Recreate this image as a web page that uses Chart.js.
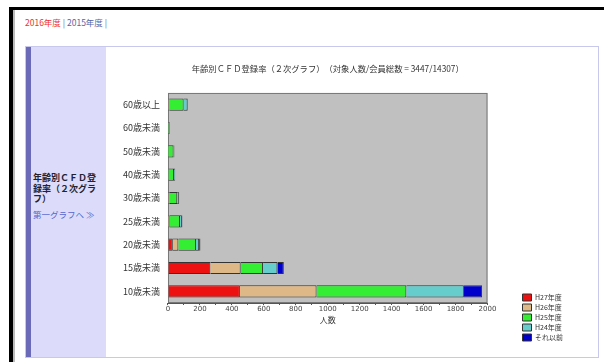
<!DOCTYPE html>
<html>
<head>
<meta charset="utf-8">
<script src="https://cdn.jsdelivr.net/npm/chart.js@4"></script>
<style>
	body { margin: 0; background: #fff; font-family: "Noto Sans CJK JP", sans-serif; }
	#frame-top { position: absolute; left: 9px; top: 7px; width: 595px; height: 3px; background: #000; }
	#frame-left { position: absolute; left: 9px; top: 7px; width: 4px; height: 355px; background: #000; }
	#frame-shade { position: absolute; left: 13px; top: 10px; width: 2px; height: 352px; background: #bbb; }
	#years { position: absolute; left: 25px; top: 16px; font-size: 8.5px; color: #5566aa; }
	#years .now { color: #ee3333; }
	#panel { position: absolute; left: 25px; top: 46px; width: 572px; height: 310px; border: 1px solid #c8c8ec; background: #fff; }
	#side { position: absolute; left: 0; top: 0; width: 80px; height: 310px; background: #dcdcfa; border-left: 5px solid #6a6ab8; box-sizing: border-box; }
	#side .name { position: absolute; left: 2px; top: 126px; width: 66px; font-size: 9px; font-weight: bold; color: #223; line-height: 10.5px; }
	#side .link { position: absolute; left: 2px; top: 161px; font-size: 8.5px; color: #5566cc; }
	#wrap { position: absolute; left: 81px; top: 1px; width: 490px; height: 306px; }
</style>
</head>
<body>
<div id="frame-top"></div>
<div id="frame-left"></div>
<div id="frame-shade"></div>
<div id="years"><span class="now">2016年度</span> | 2015年度 |</div>
<div id="panel">
	<div id="side">
		<div class="name">年齢別ＣＦＤ登録率（２次グラフ）</div>
		<div class="link">第一グラフへ ≫</div>
	</div>
	<div id="wrap"><canvas id="reg-chart" width="490" height="306"></canvas></div>
</div>
<script>
const ageGroups = ['60歳以上', '60歳未満', '50歳未満', '40歳未満', '30歳未満', '25歳未満', '20歳未満', '15歳未満', '10歳未満'];
const yearNames = ['H27年度', 'H26年度', 'H25年度', 'H24年度', 'それ以前'];
const h27 = [3, 0, 0, 0, 3, 3, 30, 265, 450];
const h26 = [5, 0, 2, 3, 5, 7, 35, 190, 480];
const h25 = [90, 10, 33, 35, 50, 65, 110, 140, 562];
const h24 = [25, 2, 5, 7, 10, 12, 20, 90, 360];
const older = [2, 0, 0, 0, 2, 3, 8, 40, 114];
const xTicks = [0, 200, 400, 600, 800, 1000, 1200, 1400, 1600, 1800, 2000];
const colors = ['#ee1111', '#deb887', '#33ee33', '#66cccc', '#0000cc'];

const series = [h27, h26, h25, h24, older];

// grey plot background with a dark frame
const plotBg = {
	id: 'plotBg',
	beforeDatasetsDraw(chart) {
		const a = chart.chartArea, ctx = chart.ctx;
		ctx.save();
		ctx.fillStyle = '#c0c0c0';
		ctx.fillRect(a.left, a.top, a.right - a.left, a.bottom - a.top);
		ctx.strokeStyle = '#777';
		ctx.lineWidth = 1;
		ctx.strokeRect(a.left + 0.5, a.top + 0.5, a.right - a.left - 1, a.bottom - a.top - 1);
		ctx.restore();
	}
};

new Chart(document.getElementById('reg-chart'), {
	type: 'bar',
	data: {
		labels: ageGroups,
		datasets: series.map((s, i) => ({
			label: yearNames[i],
			data: s,
			backgroundColor: colors[i],
			borderColor: '#333',
			borderWidth: 1,
			barPercentage: 0.9,
			categoryPercentage: 0.58
		}))
	},
	options: {
		indexAxis: 'y',
		responsive: false,
		animation: false,
		layout: { padding: { left: 8, right: 24, top: 0, bottom: 10 } },
		scales: {
			x: {
				stacked: true,
				min: 0,
				max: 2000,
				grid: { drawOnChartArea: false, drawTicks: true, tickLength: 2, color: '#555' },
				border: { color: '#555' },
				ticks: {
					stepSize: 100,
					autoSkip: false,
					maxRotation: 0,
					callback: v => xTicks.includes(v) ? String(v) : '',
					font: { size: 7, family: 'DejaVu Sans' },
					color: '#444',
					padding: 0
				},
				title: { display: true, text: '人数', font: { size: 8, family: 'Noto Sans CJK JP' }, color: '#333', padding: { top: 2, bottom: 19 } }
			},
			y: {
				stacked: true,
				grid: { display: false, drawTicks: false },
				border: { display: false },
				ticks: { font: { size: 9, family: 'Noto Sans CJK JP' }, color: '#333', padding: 8 }
			},
			// empty axis that keeps a gap between the plot and the legend
			gap: {
				type: 'category',
				position: 'right',
				grid: { display: false },
				border: { display: false },
				ticks: { display: false },
				afterFit: s => { s.width = 32; }
			}
		},
		plugins: {
			title: {
				display: true,
				fullSize: false,
				text: '年齢別ＣＦＤ登録率（２次グラフ）　（対象人数/会員総数 = 3447/14307）',
				font: { size: 8.3, weight: 'normal', family: 'Noto Sans CJK JP' },
				color: '#333',
				padding: { top: 16, bottom: 19 }
			},
			legend: {
				position: 'right',
				align: 'end',
				labels: { boxWidth: 9, boxHeight: 7, padding: 3, font: { size: 7, family: 'Noto Sans CJK JP' }, color: '#333' }
			},
			tooltip: { enabled: false }
		}
	},
	plugins: [plotBg]
});
</script>
</body>
</html>
